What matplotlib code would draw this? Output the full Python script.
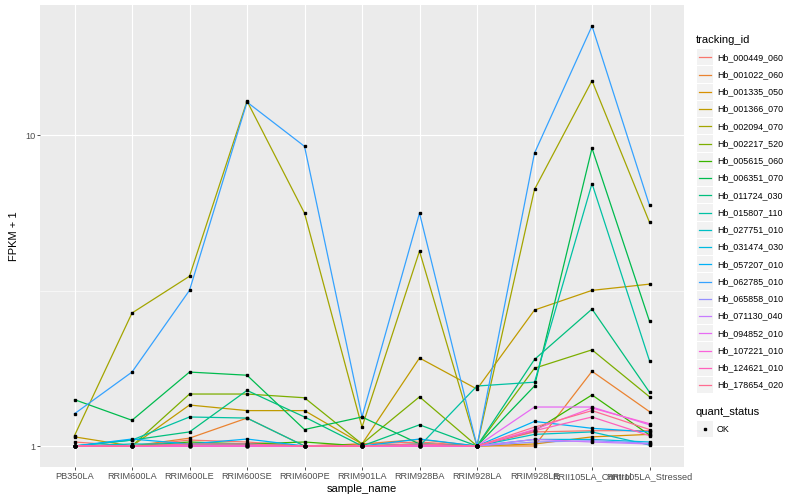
import numpy as np
import matplotlib
matplotlib.use("Agg")
import matplotlib.pyplot as plt
from matplotlib.patches import Rectangle

plt.rcParams['font.family'] = ['Liberation Sans', 'DejaVu Sans']

samples = ['PB350LA', 'RRIM600LA', 'RRIM600LE', 'RRIM600SE', 'RRIM600PE', 'RRIM901LA',
           'RRIM928BA', 'RRIM928LA', 'RRIM928LE', 'RRII105LA_Control', 'RRII105LA_Stressed']

tracking_ids = ['Hb_000449_060', 'Hb_001022_060', 'Hb_001335_050', 'Hb_001366_070',
                'Hb_002094_070', 'Hb_002217_520', 'Hb_005615_060', 'Hb_006351_070',
                'Hb_011724_030', 'Hb_015807_110', 'Hb_027751_010', 'Hb_031474_030',
                'Hb_057207_010', 'Hb_062785_010', 'Hb_065858_010', 'Hb_071130_040',
                'Hb_094852_010', 'Hb_107221_010', 'Hb_124621_010', 'Hb_178654_020']

# FPKM + 1, one row per tracking_id
fpkm = [
    [1.03, 1.00, 1.045, 1.03, 1.00, 1.015, 1.03, 1.00, 1.11, 1.12, 1.12],
    [1.00, 1.00, 1.06, 1.23, 1.00, 1.015, 1.05, 1.00, 1.00, 1.74, 1.29],
    [1.00, 1.00, 1.015, 1.015, 1.00, 1.00, 1.00, 1.00, 1.015, 1.07, 1.09],
    [1.07, 1.00, 1.355, 1.30, 1.30, 1.015, 1.92, 1.525, 2.74, 3.17, 3.32],
    [1.08, 2.68, 3.52, 12.9, 5.62, 1.15, 4.24, 1.00, 6.70, 15.0, 5.25],
    [1.00, 1.00, 1.47, 1.47, 1.43, 1.015, 1.44, 1.00, 1.78, 2.04, 1.44],
    [1.00, 1.00, 1.03, 1.015, 1.03, 1.00, 1.015, 1.00, 1.12, 1.46, 1.085],
    [1.41, 1.21, 1.73, 1.69, 1.13, 1.24, 1.015, 1.00, 1.56, 9.09, 2.52],
    [1.00, 1.045, 1.11, 1.51, 1.24, 1.00, 1.17, 1.00, 1.90, 2.76, 1.49],
    [1.00, 1.045, 1.24, 1.23, 1.00, 1.00, 1.00, 1.56, 1.605, 7.00, 1.88],
    [1.00, 1.015, 1.015, 1.015, 1.00, 1.00, 1.015, 1.00, 1.09, 1.11, 1.007],
    [1.00, 1.00, 1.00, 1.00, 1.00, 1.00, 1.00, 1.00, 1.05, 1.05, 1.03],
    [1.00, 1.053, 1.015, 1.053, 1.00, 1.00, 1.053, 1.00, 1.20, 1.14, 1.11],
    [1.27, 1.73, 3.17, 12.8, 9.22, 1.24, 5.62, 1.00, 8.77, 22.5, 5.95],
    [1.00, 1.00, 1.00, 1.00, 1.00, 1.00, 1.00, 1.00, 1.03, 1.04, 1.02],
    [1.00, 1.00, 1.00, 1.00, 1.00, 1.00, 1.00, 1.00, 1.05, 1.03, 1.015],
    [1.00, 1.00, 1.00, 1.00, 1.00, 1.00, 1.00, 1.00, 1.335, 1.335, 1.17],
    [1.00, 1.00, 1.00, 1.00, 1.00, 1.00, 1.00, 1.00, 1.13, 1.325, 1.18],
    [1.00, 1.00, 1.00, 1.00, 1.00, 1.00, 1.00, 1.00, 1.12, 1.24, 1.08],
    [1.00, 1.00, 1.015, 1.015, 1.00, 1.00, 1.015, 1.00, 1.15, 1.30, 1.13],
]

# ggplot2 default hue palette for 20 levels
colors = ['#F8766D', '#EA8331', '#D89000', '#C09B00', '#A3A500', '#7CAE00', '#39B600',
          '#00BB4E', '#00BF7D', '#00C1A3', '#00BFC4', '#00BAE0', '#00B0F6', '#35A2FF',
          '#9590FF', '#C77CFF', '#E76BF3', '#FA62DB', '#FF62BC', '#FF6C91']

W, H = 800, 500
fig = plt.figure(figsize=(8, 5), dpi=100)
ax = fig.add_axes([40 / W, 1 - 467 / H, (684 - 40) / W, (467 - 5) / H])
ax.set_facecolor('#EBEBEB')

x = np.arange(len(samples))
for vals, c in zip(fpkm, colors):
    ax.plot(x, vals, color=c, lw=0.9, zorder=3)
for vals in fpkm:
    ax.plot(x, vals, 's', color='black', ms=2.1, zorder=4, ls='none')

ax.set_yscale('log')
allv = np.log10(np.array(fpkm))
lo, hi = allv.min(), allv.max()
span = hi - lo
ax.set_ylim(10 ** (lo - 0.05 * span), 10 ** (hi + 0.05 * span))
ax.set_xlim(-0.6, len(samples) - 1 + 0.6)

ax.set_yticks([1, 10])
ax.set_yticklabels(['1', '10'])
ax.yaxis.set_minor_locator(matplotlib.ticker.FixedLocator([10 ** 0.5]))
ax.yaxis.set_minor_formatter(matplotlib.ticker.NullFormatter())
ax.set_xticks(x)
ax.set_xticklabels(samples)

ax.grid(True, which='major', color='white', lw=0.8, zorder=0)
ax.grid(True, which='minor', axis='y', color='white', lw=0.4, zorder=0)
ax.set_axisbelow(True)
for s in ax.spines.values():
    s.set_visible(False)
ax.tick_params(which='major', length=2, width=0.6, color='#333333', labelsize=6.6,
               labelcolor='#4D4D4D', pad=1.5)
ax.tick_params(which='minor', length=0)

ax.set_xlabel('sample_name', fontsize=8, labelpad=2)
ax.set_ylabel('FPKM + 1', fontsize=8, labelpad=4)

# legend drawn on a pixel overlay
lg = fig.add_axes([0, 0, 1, 1], facecolor='none')
lg.set_xlim(0, W)
lg.set_ylim(H, 0)
lg.axis('off')

lg.text(696, 40, 'tracking_id', fontsize=8, va='center', ha='left')
row_h = 17.25
for i, (name, c) in enumerate(zip(tracking_ids, colors)):
    yc = 57.3 + i * row_h
    lg.add_patch(Rectangle((697, yc - row_h / 2 + 0.5), 16, row_h - 1,
                           facecolor='#F2F2F2', edgecolor='none'))
    lg.plot([699, 711], [yc, yc], color=c, lw=0.9)
    lg.text(717, yc, name, fontsize=6.4, va='center', ha='left')

lg.text(696, 412, 'quant_status', fontsize=8, va='center', ha='left')
lg.add_patch(Rectangle((697, 429 - row_h / 2 + 0.5), 16, row_h - 1,
                       facecolor='#F2F2F2', edgecolor='none'))
lg.plot([705], [429], 's', color='black', ms=2.1)
lg.text(717, 429, 'OK', fontsize=6.4, va='center', ha='left')

fig.savefig('out.png', dpi=100)
